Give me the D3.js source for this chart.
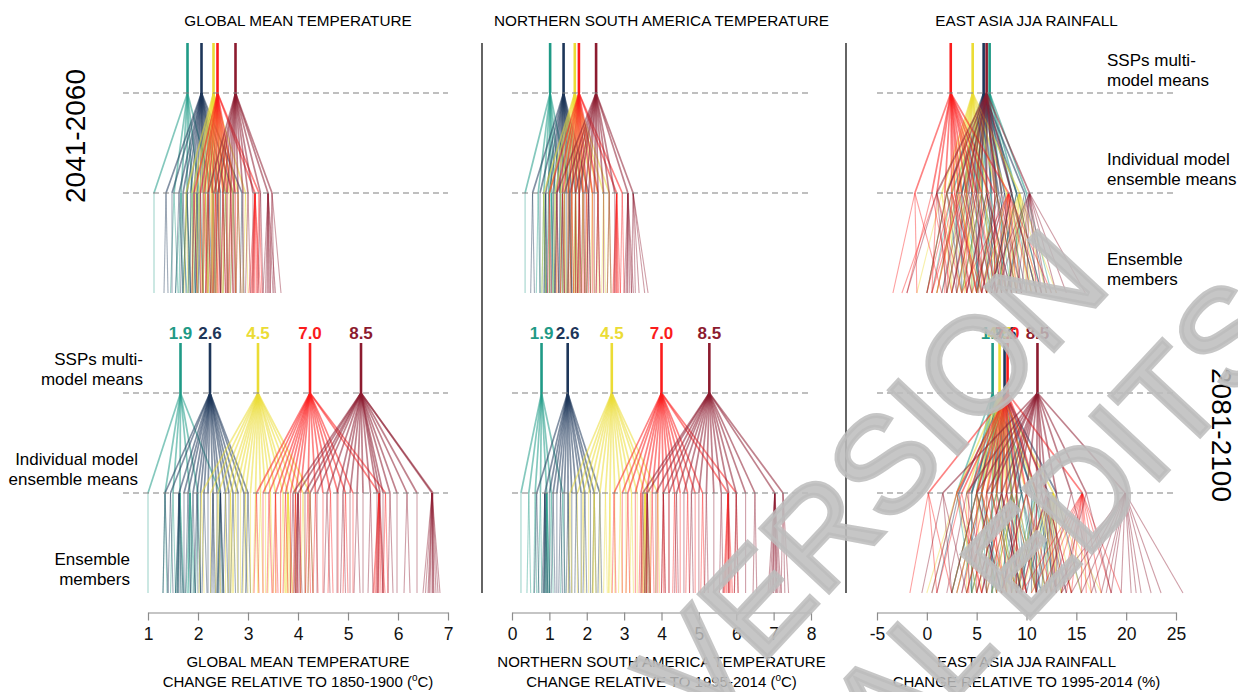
<!DOCTYPE html>
<html lang="en">
<head>
  <meta charset="utf-8">
  <title>Projected change: SSP multi-model means, model means and ensemble members</title>
  <script src="https://cdn.jsdelivr.net/npm/d3@7"></script>
  <style type="text/css">
    body { margin: 0; background: #fff; }
    svg text { font-family: "Liberation Sans", Arial, Helvetica, sans-serif; }
  </style>
</head>
<body>
<svg id="chart" width="1238" height="692" xmlns="http://www.w3.org/2000/svg"></svg>
<script type="text/javascript">
  // scenario order: SSP1-1.9, SSP1-2.6, SSP2-4.5, SSP3-7.0, SSP5-8.5
  var sspLabels = ['1.9', '2.6', '4.5', '7.0', '8.5'];
  var sspColors = ['#1f9a86', '#1d3659', '#ebdc35', '#fb1c1c', '#8c1b2f'];

  var gmtTicks = [1, 2, 3, 4, 5, 6, 7];
  var nsaTicks = [0, 1, 2, 3, 4, 5, 6, 7, 8];
  var rainTicks = [-5, 0, 5, 10, 15, 20, 25];

  // each model: [model ensemble mean, member, member, ...]; no members listed = single run
  // global mean temperature, 2041-2060
  var gmtMidMeans = [1.79, 2.07, 2.31, 2.39, 2.75];
  var gmtMid119 = [[1.12], [1.52, 1.45, 1.6], [1.66, 1.55, 1.62, 1.7, 1.78], [1.78, 1.7, 1.85], [1.88, 1.8, 1.95, 1.9], [2.02, 1.95, 2.1], [2.3, 2.25, 2.36]];
  var gmtMid126 = [[1.36, 1.32, 1.4], [1.48], [1.62, 1.55, 1.7], [1.7, 1.65, 1.76], [1.78, 1.7, 1.85, 1.82], [1.85], [1.92, 1.88, 1.98], [1.98, 1.92, 2.05, 2.0, 1.95], [2.05, 2.0, 2.1], [2.1], [2.15, 2.1, 2.22], [2.22, 2.18, 2.28], [2.3], [2.38, 2.32, 2.45], [2.45], [2.55, 2.5, 2.6], [2.7, 2.65, 2.76], [2.88, 2.84, 2.92]];
  var gmtMid245 = [[1.76, 1.72, 1.8], [1.88], [1.95, 1.9, 2.0], [2.02, 1.98, 2.08], [2.1], [2.15, 2.1, 2.2, 2.18], [2.2], [2.26, 2.2, 2.3], [2.3, 2.25, 2.35, 2.32, 2.28], [2.36], [2.42, 2.38, 2.48], [2.5], [2.55, 2.5, 2.6], [2.62], [2.7, 2.65, 2.75], [2.8, 2.76, 2.86], [2.95, 2.9, 3.0]];
  var gmtMid370 = [[1.92, 1.88, 1.98], [2.05], [2.12, 2.08, 2.18], [2.2, 2.15, 2.25], [2.28], [2.35, 2.3, 2.4, 2.38], [2.42], [2.5, 2.45, 2.55], [2.58], [2.66, 2.62, 2.7], [2.75], [3.14, 3.02, 3.06, 3.1, 3.14, 3.18, 3.22, 3.25, 3.08, 3.12], [3.22, 3.18, 3.28]];
  var gmtMid585 = [[2.2, 2.15, 2.25], [2.32], [2.4, 2.35, 2.45], [2.5, 2.46, 2.55], [2.58], [2.65, 2.6, 2.7], [2.72], [2.8, 2.76, 2.86], [2.9], [3.0, 2.95, 3.05], [3.1], [3.25, 3.2, 3.3], [3.4, 3.3, 3.35, 3.4, 3.45, 3.5, 3.55, 3.42, 3.38], [3.48, 3.44, 3.52, 3.66]];

  // global mean temperature, 2081-2100
  var gmtLateMeans = [1.65, 2.24, 3.2, 4.24, 5.26];
  var gmtLate119 = [[1.0], [1.34, 1.3, 1.38], [1.5, 1.45, 1.55], [1.64, 1.55, 1.6, 1.66, 1.7, 1.72, 1.58], [1.84, 1.76, 1.8, 1.84, 1.88, 1.92, 1.95, 1.8], [2.0, 1.95, 2.05], [2.44, 2.4, 2.5]];
  var gmtLate126 = [[1.34, 1.3, 1.4], [1.45, 1.4, 1.5], [1.62, 1.55, 1.58, 1.62, 1.66, 1.7, 1.6], [1.72], [1.8, 1.75, 1.85], [1.9, 1.85, 1.95], [1.98, 1.92, 2.05, 2.0], [2.05], [2.12, 2.08, 2.18], [2.2], [2.3, 2.25, 2.35, 2.28, 2.32], [2.38], [2.45, 2.38, 2.42, 2.46, 2.5, 2.52, 2.4], [2.55, 2.5, 2.6], [2.62], [2.7, 2.65, 2.75], [2.8], [2.92, 2.88, 2.98], [3.0, 2.95, 3.05]];
  var gmtLate245 = [[2.07, 2.02, 2.12], [2.25], [2.4, 2.35, 2.45], [2.55], [2.65, 2.6, 2.7, 2.66], [2.75, 2.7, 2.8], [2.85], [2.95, 2.9, 3.0], [3.05], [3.15, 3.1, 3.2], [3.25, 3.2, 3.3], [3.35], [3.45, 3.4, 3.5], [3.55], [3.7, 3.65, 3.75], [3.8, 3.72, 3.76, 3.8, 3.84, 3.88, 3.9, 3.78], [3.95], [4.1, 4.05, 4.15], [4.24, 4.2, 4.3]];
  var gmtLate370 = [[3.17, 3.12, 3.22], [3.3], [3.42, 3.38, 3.48], [3.55, 3.5, 3.6, 3.56], [3.65], [3.75, 3.7, 3.8], [3.85], [3.95, 3.9, 4.0, 3.96], [4.05], [4.2, 4.15, 4.25], [4.35, 4.3, 4.4], [4.5], [4.65, 4.6, 4.7], [4.8], [4.95, 4.9, 5.0], [5.1], [5.62, 5.5, 5.55, 5.58, 5.62, 5.66, 5.7, 5.74, 5.6, 5.52], [5.75, 5.7, 5.8]];
  var gmtLate585 = [[3.9, 3.85, 3.95], [4.0, 3.92, 3.96, 4.0, 4.04, 4.08, 3.98], [4.14], [4.24, 4.2, 4.3], [4.38], [4.58, 4.52, 4.64], [4.78], [4.9, 4.85, 4.95], [5.04], [5.18, 5.12, 5.24], [5.3], [5.45, 5.4, 5.5], [5.58], [5.64, 5.6, 5.7], [5.7], [5.84, 5.8, 5.9], [5.98], [6.18, 6.12, 6.24], [6.38], [6.68, 6.5, 6.55, 6.6, 6.64, 6.68, 6.72, 6.76, 6.8, 6.84, 6.62, 6.7], [6.7]];

  // northern South America temperature, 2041-2060
  var nsaMidMeans = [1.02, 1.38, 1.68, 1.79, 2.25];
  var nsaMid119 = [[0.35], [0.7, 0.65, 0.75], [0.85, 0.8, 0.9, 0.88], [0.98, 0.92, 1.02], [1.05, 1.0, 1.1, 1.08, 1.12], [1.15], [1.3, 1.25, 1.35], [1.55, 1.5, 1.6]];
  var nsaMid126 = [[0.55, 0.5, 0.6], [0.75], [0.9, 0.85, 0.95, 0.88, 0.92], [1.0], [1.1, 1.05, 1.15], [1.2, 1.15, 1.25], [1.28], [1.35, 1.3, 1.4, 1.36], [1.45], [1.52, 1.48, 1.58], [1.6], [1.7, 1.65, 1.75], [1.8], [1.9, 1.85, 1.95], [2.05, 2.0, 2.1]];
  var nsaMid245 = [[0.85, 0.8, 0.9], [1.0], [1.15, 1.1, 1.2], [1.3], [1.4, 1.35, 1.45, 1.42], [1.5], [1.6, 1.55, 1.65], [1.7, 1.65, 1.75, 1.72, 1.68], [1.8], [1.9, 1.85, 1.95], [2.0], [2.15, 2.1, 2.2], [2.3], [2.45, 2.4, 2.5], [2.6, 2.55, 2.65]];
  var nsaMid370 = [[1.0, 0.95, 1.05], [1.2], [1.35, 1.3, 1.4], [1.5], [1.6, 1.55, 1.65], [1.7], [1.8, 1.75, 1.85, 1.78], [1.9], [2.0, 1.95, 2.05], [2.15], [2.3, 2.25, 2.35], [2.8, 2.7, 2.75, 2.8, 2.85, 2.9, 2.72, 2.78, 2.82], [2.95, 2.9, 3.0]];
  var nsaMid585 = [[1.2, 1.15, 1.25], [1.4], [1.55, 1.5, 1.6], [1.7], [1.8, 1.75, 1.85], [1.95], [2.05, 2.0, 2.1], [2.2], [2.3, 2.25, 2.35], [2.45], [2.6, 2.55, 2.65], [2.75], [3.1, 3.0, 3.05, 3.1, 3.15, 3.2, 3.25, 3.08], [3.24, 3.2, 3.3, 3.4, 3.55, 3.64]];

  // northern South America temperature, 2081-2100
  var nsaLateMeans = [0.79, 1.49, 2.67, 4.0, 5.28];
  var nsaLate119 = [[0.24], [0.45, 0.4, 0.5], [0.62, 0.58, 0.66], [0.76, 0.7, 0.8], [0.93, 0.85, 0.88, 0.9, 0.93, 0.96, 1.0, 1.02, 0.95], [1.05, 1.0, 1.1], [1.36, 1.3, 1.42]];
  var nsaLate126 = [[0.66, 0.6, 0.72], [0.88, 0.8, 0.84, 0.88, 0.92, 0.96, 0.86], [1.0], [1.1, 1.05, 1.15], [1.2], [1.3, 1.25, 1.35], [1.4], [1.5, 1.45, 1.55, 1.52], [1.6], [1.72, 1.68, 1.78], [1.85], [1.95, 1.9, 2.0], [2.1], [2.2, 2.15, 2.25], [2.35, 2.3, 2.4]];
  var nsaLate245 = [[1.55, 1.5, 1.6], [1.75], [1.9, 1.85, 1.95], [2.05], [2.2, 2.15, 2.25, 2.18], [2.35], [2.5, 2.45, 2.55], [2.62, 2.58, 2.66, 2.6], [2.75], [2.9, 2.85, 2.95], [3.05], [3.2, 3.15, 3.25], [3.35], [3.56, 3.45, 3.5, 3.55, 3.6, 3.65, 3.7, 3.52, 3.58], [3.7], [3.9, 3.85, 3.95]];
  var nsaLate370 = [[2.73, 2.68, 2.78], [2.95], [3.1, 3.05, 3.15], [3.3], [3.45, 3.4, 3.5, 3.46], [3.6], [3.75, 3.7, 3.8], [3.9], [4.05, 4.0, 4.1, 4.06], [4.2], [4.35, 4.3, 4.4], [4.5], [4.7, 4.65, 4.75], [4.9], [5.1, 5.05, 5.15], [5.78, 5.65, 5.7, 5.74, 5.78, 5.82, 5.86, 5.9, 5.68, 5.8], [6.0, 5.95, 6.05]];
  var nsaLate585 = [[3.5, 3.45, 3.55], [3.62, 3.55, 3.58, 3.6, 3.64, 3.68, 3.7], [3.85], [4.05, 4.0, 4.1], [4.2], [4.4, 4.35, 4.45], [4.6], [4.8, 4.75, 4.85], [5.0], [5.2, 5.15, 5.25], [5.4], [5.6, 5.55, 5.65], [5.8], [6.0, 5.95, 6.05], [6.25], [6.5, 6.45, 6.55], [7.03, 6.85, 6.9, 6.95, 7.0, 7.05, 7.1, 7.15, 7.2, 6.98, 7.08], [7.25, 7.2, 7.3, 7.4]];

  // East Asia JJA rainfall, 2041-2060
  var rainMidMeans = [6.3, 5.7, 4.6, 2.4, 6.0];
  var rainMid119 = [[2.5, 0.5, 4.0], [4.5], [5.5, 3.5, 7.5], [6.4, 4.5, 6.0, 8.0], [7.5], [8.5, 6.5, 10.5, 9.5, 11.0], [10.0, 8.0, 12.5], [3.5, 1.5, 5.5], [7.0, 5.0, 8.5, 9.0], [9.0, 7.0, 11.5], [5.0, 3.0, 6.5]];
  var rainMid126 = [[2.0, 0.0, 3.5], [3.5], [4.5, 2.5, 6.5], [5.5, 3.5, 5.0, 7.0, 8.0], [6.5], [7.2, 5.0, 9.5], [8.5, 6.5, 11.0], [5.0], [6.0, 4.0, 8.5, 7.5], [9.8, 8.0, 12.0], [4.0, 2.0, 5.5], [7.8, 5.5, 10.0, 8.5], [3.0, 1.0, 5.0], [9.0, 7.0, 11.5]];
  var rainMid245 = [[1.5, -1.0, 2.5, 3.5], [2.5], [3.3, 1.0, 5.0], [4.0, 2.0, 6.0, 4.5], [4.6], [5.2, 3.0, 7.5], [6.0], [9.3, 5.0, 6.0, 7.0, 8.0, 9.0, 10.0, 11.0, 12.0, 13.0, 8.5, 10.5], [3.8], [5.5, 3.5, 8.0], [2.0, 0.0, 4.0], [7.0, 5.0, 9.0], [8.0, 6.0, 10.5, 9.0], [3.0, 1.0, 5.5]];
  var rainMid370 = [[-1.2, -3.4, -1.0, 1.5], [1.0, -2.5, 0.5, 3.5], [1.8], [2.5, 0.0, 2.0, 4.5, 5.5], [3.2, 1.0, 5.0], [4.0], [4.6, 2.5, 6.5], [5.5], [6.2, 4.0, 8.0], [8.2, 3.5, 4.5, 5.5, 6.5, 7.5, 8.5, 9.5, 10.5, 11.5, 12.5, 7.0, 9.0], [6.8], [3.5, 0.5, 6.0], [0.5, -2.0, 2.5], [2.8, 0.5, 5.0, 4.0], [5.0, 3.0, 7.0]];
  var rainMid585 = [[1.0, -2.0, 2.0, 3.0], [3.0], [4.2, 2.0, 6.0], [5.2], [6.0, 4.0, 7.5, 8.5], [6.8], [7.5, 5.5, 9.5], [10.3, 6.0, 7.0, 8.0, 9.0, 10.0, 11.0, 12.0, 13.0, 14.0, 15.9, 9.5, 11.5], [4.8, 2.5, 7.0], [2.0, 0.0, 4.5], [7.0, 5.0, 9.0, 8.0], [8.5, 6.5, 11.0], [3.8, 1.5, 6.0]];

  // East Asia JJA rainfall, 2081-2100
  var rainLateMeans = [6.6, 7.8, 7.3, 8.1, 11.1];
  var rainLate119 = [[3.0, 0.5, 4.5], [4.5], [5.5, 3.0, 7.5, 6.0], [6.6], [7.5, 5.0, 9.5], [8.5, 6.5, 10.0, 11.5, 7.5, 9.0], [10.8, 8.5, 12.5, 11.0, 13.0, 9.5], [5.0, 2.5, 7.0], [9.5, 7.0, 12.0, 11.0], [7.0, 4.5, 9.0]];
  var rainLate126 = [[3.2, 1.0, 5.0], [4.5], [5.5, 3.5, 7.0], [6.5], [7.5, 5.5, 9.5, 8.0], [8.5], [9.5, 7.5, 11.5], [10.5], [12.2, 9.0, 10.0, 11.0, 12.0, 13.0, 14.0, 11.5, 12.5, 13.5], [11.0, 9.0, 13.0], [5.0, 2.5, 7.5], [9.0, 6.5, 11.0, 10.0], [7.0, 4.5, 9.5], [13.0, 11.0, 15.5]];
  var rainLate245 = [[3.0, 0.0, 5.0], [4.0], [5.0, 2.5, 7.0, 5.5], [6.0], [7.0, 4.5, 9.0], [8.0], [9.0, 6.5, 11.0], [12.7, 7.5, 8.5, 9.5, 10.5, 11.5, 12.5, 13.5, 14.5, 15.5, 16.5, 17.5, 12.0, 13.0], [10.0, 8.0, 12.0], [7.5], [5.5, 3.0, 8.0], [8.5, 6.0, 11.0, 9.5], [11.0, 9.0, 13.5], [6.5, 4.0, 9.0]];
  var rainLate370 = [[0.15, -1.7, 1.0, 2.5], [3.5, 1.0, 5.5], [5.0], [6.0, 3.5, 8.0], [7.0], [8.0, 5.5, 10.0, 9.0], [9.0], [10.0, 7.5, 12.5], [11.0], [15.6, 9.5, 10.5, 11.5, 12.5, 13.5, 14.5, 15.5, 16.5, 17.5, 18.5, 19.5, 14.0, 16.0], [6.5, 4.0, 8.5], [4.2], [5.5, 3.0, 8.0], [7.5, 5.0, 10.0], [12.0, 9.5, 14.5, 13.0], [3.0, 0.5, 5.5]];
  var rainLate585 = [[1.6, -0.5, 2.5, 4.0], [4.0, 2.0, 6.0], [6.0], [7.5, 5.0, 9.5], [9.0], [10.0, 7.5, 12.0, 11.0], [11.0], [12.0, 9.5, 14.5], [13.0], [14.5, 12.0, 17.0], [19.9, 12.5, 13.5, 14.5, 15.5, 16.5, 17.5, 18.5, 19.5, 20.5, 21.5, 22.5, 23.5, 25.7, 18.0, 21.0], [8.0, 5.5, 10.0], [16.0, 13.5, 18.5], [5.0, 2.5, 7.5], [8.5, 6.0, 11.0], [11.5, 9.0, 14.0, 13.0], [6.5, 4.0, 9.0]];

  var svg = d3.select('#chart');

  var levels = {
    mid: { top: 43, l1: 93, l2: 193, bottom: 293 },
    late: { top: 343, l1: 393, l2: 493, bottom: 593 }
  };

  var panels = [
    {
      domain: [1, 7], range: [148, 448], dash: [123, 448], ticks: gmtTicks,
      title: 'GLOBAL MEAN TEMPERATURE', sub: 'CHANGE RELATIVE TO 1850-1900', unit: 'C',
      mid: { means: gmtMidMeans, groups: [gmtMid119, gmtMid126, gmtMid245, gmtMid370, gmtMid585] },
      late: { means: gmtLateMeans, groups: [gmtLate119, gmtLate126, gmtLate245, gmtLate370, gmtLate585] }
    },
    {
      domain: [0, 8], range: [512, 811], dash: [512, 812], ticks: nsaTicks,
      title: 'NORTHERN SOUTH AMERICA TEMPERATURE', sub: 'CHANGE RELATIVE TO 1995-2014', unit: 'C',
      mid: { means: nsaMidMeans, groups: [nsaMid119, nsaMid126, nsaMid245, nsaMid370, nsaMid585] },
      late: { means: nsaLateMeans, groups: [nsaLate119, nsaLate126, nsaLate245, nsaLate370, nsaLate585] }
    },
    {
      domain: [-5, 25], range: [877, 1176], dash: [877, 1177], ticks: rainTicks,
      title: 'EAST ASIA JJA RAINFALL', sub: 'CHANGE RELATIVE TO 1995-2014', unit: '%',
      mid: { means: rainMidMeans, groups: [rainMid119, rainMid126, rainMid245, rainMid370, rainMid585] },
      late: { means: rainLateMeans, groups: [rainLate119, rainLate126, rainLate245, rainLate370, rainLate585] }
    }
  ];

  function drawTree(g, x, means, groups, lv, labelled) {
    var memberSegs = [];
    var modelSegs = [];
    groups.forEach(function(models, i) {
      models.forEach(function(m) {
        var members = m.length > 1 ? m.slice(1) : [m[0]];
        modelSegs.push({ from: means[i], to: m[0], c: sspColors[i] });
        members.forEach(function(v) {
          memberSegs.push({ from: m[0], to: v, c: sspColors[i] });
        });
      });
    });

    g.append('g').selectAll('line')
      .data(memberSegs)
      .join('line')
      .attr('x1', function(d) { return x(d.from); })
      .attr('y1', lv.l2)
      .attr('x2', function(d) { return x(d.to); })
      .attr('y2', lv.bottom)
      .attr('stroke', function(d) { return d.c; })
      .attr('stroke-opacity', 0.42)
      .attr('stroke-width', 1.1);

    g.append('g').selectAll('line')
      .data(modelSegs)
      .join('line')
      .attr('x1', function(d) { return x(d.from); })
      .attr('y1', lv.l1)
      .attr('x2', function(d) { return x(d.to); })
      .attr('y2', lv.l2)
      .attr('stroke', function(d) { return d.c; })
      .attr('stroke-opacity', 0.55)
      .attr('stroke-width', 1.7);

    g.append('g').selectAll('line')
      .data(means)
      .join('line')
      .attr('x1', function(d) { return x(d); })
      .attr('x2', function(d) { return x(d); })
      .attr('y1', lv.top)
      .attr('y2', lv.l1)
      .attr('stroke', function(d, i) { return sspColors[i]; })
      .attr('stroke-width', 2.6);

    if (labelled) {
      g.append('g').selectAll('text')
        .data(means)
        .join('text')
        .attr('x', function(d) { return x(d); })
        .attr('y', lv.top - 4)
        .attr('text-anchor', 'middle')
        .attr('font-size', 17)
        .attr('font-weight', 'bold')
        .attr('fill', function(d, i) { return sspColors[i]; })
        .text(function(d, i) { return sspLabels[i]; });
    }
  }

  panels.forEach(function(p) {
    var x = d3.scaleLinear().domain(p.domain).range(p.range);
    var g = svg.append('g');

    drawTree(g, x, p.mid.means, p.mid.groups, levels.mid, false);
    drawTree(g, x, p.late.means, p.late.groups, levels.late, true);

    [levels.mid.l1, levels.mid.l2, levels.late.l1, levels.late.l2].forEach(function(y) {
      g.append('line')
        .attr('x1', p.dash[0]).attr('x2', p.dash[1])
        .attr('y1', y).attr('y2', y)
        .attr('stroke', '#808080')
        .attr('stroke-width', 1.2)
        .attr('stroke-dasharray', '6,4');
    });

    var axis = d3.axisBottom(x)
      .tickValues(p.ticks)
      .tickFormat(function(d) { return String(d); })
      .tickSize(8).tickSizeOuter(0).tickPadding(7);
    var ag = g.append('g').attr('transform', 'translate(0,612.5)').call(axis);
    ag.attr('font-family', null);
    ag.select('.domain').attr('stroke', '#8c8c8c').attr('stroke-width', 1.2);
    ag.selectAll('.tick line').attr('stroke', '#8c8c8c').attr('stroke-width', 1.2);
    ag.selectAll('.tick text').attr('font-size', 17.5).attr('fill', '#111');

    var cx = (p.range[0] + p.range[1]) / 2;
    g.append('text')
      .attr('x', cx).attr('y', 26)
      .attr('text-anchor', 'middle')
      .attr('font-size', 15.3)
      .text(p.title);

    g.append('text')
      .attr('x', cx).attr('y', 667)
      .attr('text-anchor', 'middle')
      .attr('font-size', 15)
      .text(p.title);

    var sub = g.append('text')
      .attr('x', cx).attr('y', 687)
      .attr('text-anchor', 'middle')
      .attr('font-size', 15);
    sub.append('tspan').text(p.sub + '  (');
    if (p.unit === 'C') {
      sub.append('tspan').attr('font-size', 10).attr('dy', -6).text('o');
      sub.append('tspan').attr('dy', 6).text('C)');
    } else {
      sub.append('tspan').text('%)');
    }
  });

  // panel separators
  [482, 846].forEach(function(xs) {
    svg.append('line')
      .attr('x1', xs).attr('x2', xs)
      .attr('y1', 43).attr('y2', 593)
      .attr('stroke', '#111')
      .attr('stroke-width', 1.3);
  });

  // period labels
  svg.append('text')
    .attr('transform', 'translate(85,136) rotate(-90)')
    .attr('text-anchor', 'middle')
    .attr('font-size', 28)
    .text('2041-2060');
  svg.append('text')
    .attr('transform', 'translate(1212,435) rotate(90)')
    .attr('text-anchor', 'middle')
    .attr('font-size', 28)
    .text('2081-2100');

  // level labels
  var levelNames = [['SSPs multi-', 'model means'], ['Individual model', 'ensemble means'], ['Ensemble', 'members']];
  var rightX = 1107;
  var leftX = [143, 138, 130];
  var midBase = [66, 165, 265];
  var lateBase = [365, 465, 565];
  levelNames.forEach(function(lines, k) {
    lines.forEach(function(t, j) {
      svg.append('text')
        .attr('x', rightX).attr('y', midBase[k] + j * 20)
        .attr('font-size', 17)
        .text(t);
      svg.append('text')
        .attr('x', leftX[k]).attr('y', lateBase[k] + j * 20)
        .attr('text-anchor', 'end')
        .attr('font-size', 17)
        .text(t);
    });
  });

  // watermark
  var wm = svg.append('g')
    .attr('fill', '#bcbcbc')
    .attr('fill-opacity', 0.85)
    .attr('stroke', '#bcbcbc')
    .attr('stroke-opacity', 0.85)
    .attr('stroke-width', 5)
    .attr('font-size', 135)
    .attr('text-anchor', 'end');
  wm.append('text')
    .attr('transform', 'translate(1113,287) rotate(-47)')
    .text('ACCEPTED VERSION');
  wm.append('text')
    .attr('transform', 'translate(1294,335) rotate(-47)')
    .text('SUBJECT TO FINAL EDITS');
</script>
</body>
</html>
